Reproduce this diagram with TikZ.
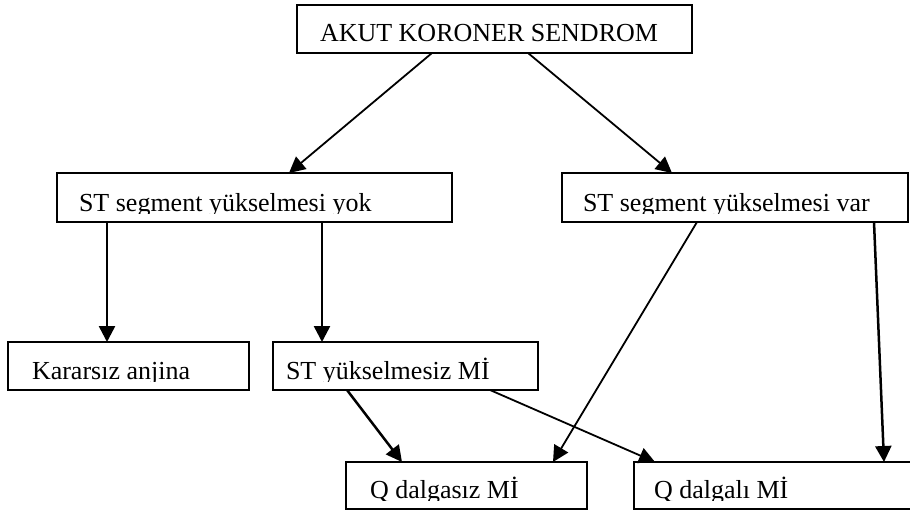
\documentclass[tikz,border=0pt]{standalone}
\usepackage{fontspec}
\setmainfont{Liberation Serif}
\usetikzlibrary{arrows.meta}

\tikzset{
  flowbox/.style={draw=black, line width=2pt, fill=white, inner sep=0pt, outer sep=0pt},
  boxtext/.style={anchor=base west, inner sep=0pt, outer sep=0pt,
    font=\fontsize{26}{30}\selectfont},
  link/.style={line width=1.8pt, -{Triangle[length=16pt,width=16pt]}},
  droplink/.style={line width=2.5pt, -{Triangle[length=16pt,width=16pt]}}
}

% name, x1, y1, x2, y2, text start, text
\newcommand\flowboxat[7]{%
  \node[flowbox, minimum width={(#4-#2)*1pt}, minimum height={(#5-#3)*1pt}]
    (#1) at ({(#2+#4)/2},{(#3+#5)/2}) {};
  \begin{scope}
    \clip ({#2},{#3}) rectangle ({#4},{#5-9});
    \node[boxtext] (#1-text) at ({#6},{#5-11}) {#7};
  \end{scope}}

\begin{document}
\begin{tikzpicture}[x=1pt, y=-1pt]
  \useasboundingbox (0,0) rectangle (910,511);

  \flowboxat{acs}{297}{5}{692}{53}{320}{AKUT KORONER SENDROM}
  \flowboxat{yok}{57}{173}{452}{222}{79}{ST segment yükselmesi yok}
  \flowboxat{var}{562}{173}{908}{222}{583}{ST segment yükselmesi var}
  \flowboxat{kar}{8}{342}{249}{390}{32}{Kararsız anjina}
  \flowboxat{stmi}{273}{342}{538}{390}{286}{ST yükselmesiz Mİ}
  \flowboxat{qsiz}{346}{462}{587}{509}{370}{Q dalgasız Mİ}
  \flowboxat{qli}{634}{462}{916}{509}{654}{Q dalgalı Mİ}

  % first split
  \draw[link] ([xshift=135pt]acs.south west) -- ([xshift=232pt]yok.north west);
  \draw[link] ([xshift=231pt]acs.south west) -- ([xshift=110pt]var.north west);

  % no ST elevation
  \draw[droplink] ([xshift=50pt]yok.south west) -- ([xshift=99pt]kar.north west);
  \draw[droplink] ([xshift=265pt]yok.south west) -- ([xshift=49pt]stmi.north west);

  % ST elevation
  \draw[link] ([xshift=135pt]var.south west) -- ([xshift=207pt]qsiz.north west);
  \draw[droplink] ([xshift=312pt]var.south west) -- ([xshift=250pt]qli.north west);

  % non-ST-elevation MI
  \draw[droplink] ([xshift=74pt]stmi.south west) -- ([xshift=56pt]qsiz.north west);
  \draw[link] ([xshift=217pt]stmi.south west) -- ([xshift=21pt]qli.north west);
\end{tikzpicture}
\end{document}
